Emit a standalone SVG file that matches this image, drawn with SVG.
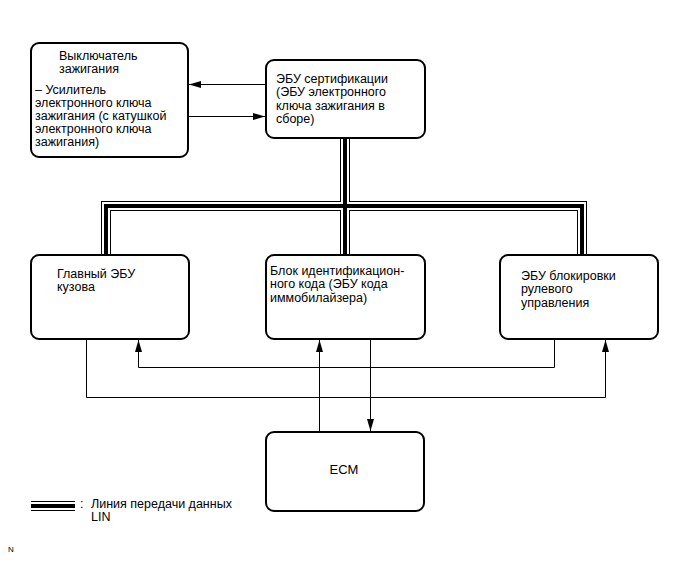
<svg xmlns="http://www.w3.org/2000/svg" width="690" height="562" viewBox="0 0 690 562">
<style>
  .box { fill: #fff; stroke: #000; stroke-width: 2; }
  .t { font-family: "Liberation Sans", Arial, sans-serif; font-size: 12.5px; fill: #000; }
  .conn { fill: none; stroke: #000; stroke-width: 1; }
  .bo { fill: none; stroke: #000; stroke-width: 10; stroke-linejoin: miter; }
  .bi { fill: none; stroke: #fff; stroke-width: 8; stroke-linejoin: miter; }
  .bc { fill: none; stroke: #000; stroke-width: 4; stroke-linejoin: miter; }
</style>
<defs>
  <marker id="arr" markerUnits="userSpaceOnUse" markerWidth="12" markerHeight="7" refX="12" refY="3.5" orient="auto">
    <path d="M0,0 L12,3.5 L0,7 z" fill="#000"/>
  </marker>
</defs>
<rect width="690" height="562" fill="#fff"/>

<g id="connectors">
  <g id="lin-bus">
    <path class="bo" d="M345,138 V206 M106,255 V206 H582 V255 M345,206 V255"/>
    <path class="bi" d="M345,138 V206 M106,255 V206 H582 V255 M345,206 V255"/>
    <path class="bc" d="M345,138 V206 M106,255 V206 H582 V255 M345,206 V255"/>
  </g>
  <path class="conn" d="M266,84.5 H189" marker-end="url(#arr)"/>
  <path class="conn" d="M188,116.5 H265" marker-end="url(#arr)"/>
  <path class="conn" d="M86.5,339 V397.5 H605.5 V340" marker-end="url(#arr)"/>
  <path class="conn" d="M554.5,339 V367.5 H138.5 V340" marker-end="url(#arr)"/>
  <path class="conn" d="M319.5,432 V340" marker-end="url(#arr)"/>
  <path class="conn" d="M370.5,339 V431" marker-end="url(#arr)"/>
</g>

<g id="ignition-switch">
  <rect class="box" x="31" y="43" width="157" height="114" rx="8"/>
  <text class="t" x="59" y="59.5">Выключатель</text>
  <text class="t" x="59" y="72.6">зажигания</text>
  <text class="t" x="35" y="93.5">– Усилитель</text>
  <text class="t" x="35" y="106.6">электронного ключа</text>
  <text class="t" x="35" y="119.7">зажигания (с катушкой</text>
  <text class="t" x="35" y="132.8">электронного ключа</text>
  <text class="t" x="35" y="145.9">зажигания)</text>
</g>

<g id="certification-ecu">
  <rect class="box" x="266" y="60" width="159" height="78" rx="8"/>
  <text class="t" x="276" y="83">ЭБУ сертификации</text>
  <text class="t" x="276" y="96.3">(ЭБУ электронного</text>
  <text class="t" x="276" y="109.6">ключа зажигания в</text>
  <text class="t" x="276" y="122.9">сборе)</text>
</g>

<g id="main-body-ecu">
  <rect class="box" x="31" y="255" width="158" height="84" rx="8"/>
  <text class="t" x="57" y="278">Главный ЭБУ</text>
  <text class="t" x="57" y="291.3">кузова</text>
</g>

<g id="id-code-box">
  <rect class="box" x="266" y="255" width="159" height="84" rx="8"/>
  <text class="t" x="270" y="275">Блок идентификацион-</text>
  <text class="t" x="270" y="288.3">ного кода (ЭБУ кода</text>
  <text class="t" x="270" y="301.6">иммобилайзера)</text>
</g>

<g id="steering-lock-ecu">
  <rect class="box" x="500" y="255" width="158" height="84" rx="8"/>
  <text class="t" x="521" y="280">ЭБУ блокировки</text>
  <text class="t" x="521" y="293.3">рулевого</text>
  <text class="t" x="521" y="306.6">управления</text>
</g>

<g id="ecm">
  <rect class="box" x="266" y="432" width="158" height="79" rx="8"/>
  <text class="t" x="344" y="474" text-anchor="middle" style="font-size:13px">ECM</text>
</g>

<g id="legend">
  <path class="bo" d="M31,506 H75"/>
  <path class="bi" d="M31,506 H75"/>
  <path class="bc" d="M31,506 H75"/>
  <text class="t" x="80" y="508">:</text>
  <text class="t" x="91" y="508">Линия передачи данных</text>
  <text class="t" x="91" y="521.3">LIN</text>
</g>

<text class="t" x="8" y="552" style="font-size:8px">N</text>
</svg>
